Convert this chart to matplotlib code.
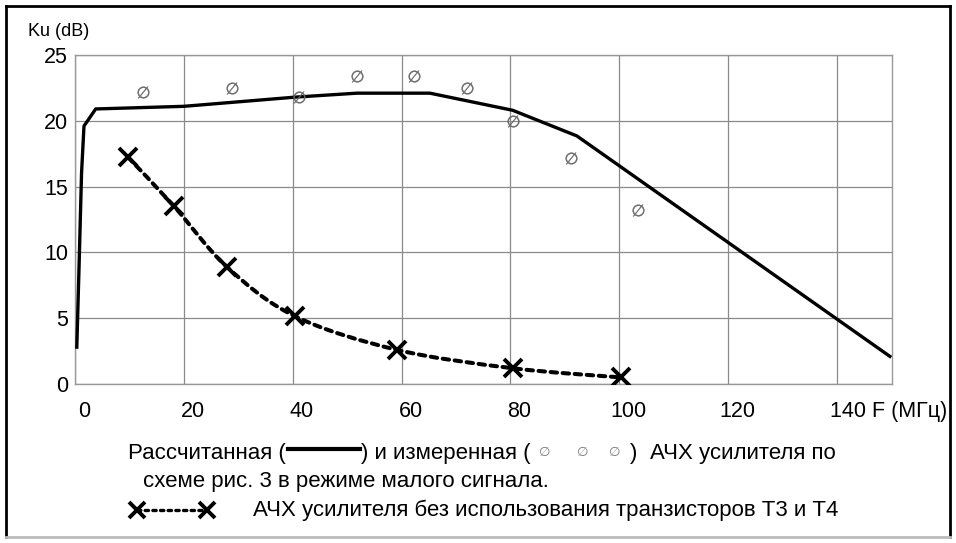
import numpy as np
import matplotlib.pyplot as plt
from matplotlib.lines import Line2D
from matplotlib.path import Path
from matplotlib.patches import PathPatch
from matplotlib.transforms import ScaledTranslation

plt.rcParams["font.family"] = ["Liberation Sans", "DejaVu Sans"]

# calculated response (solid line)
calc_f = [0.33, 0.75, 1.2, 1.65, 3.8, 20, 40.5, 51.8, 65.2, 80.4, 92.2, 149.7]
calc_ku = [2.8, 9.0, 16.0, 19.6, 20.9, 21.1, 21.8, 22.1, 22.1, 20.8, 18.85, 2.1]

# measured response (slashed circles)
meas_f = [12.5, 28.8, 41.1, 51.8, 62.2, 72.0, 80.4, 91.1, 103.4]
meas_ku = [22.2, 22.5, 21.8, 23.4, 23.4, 22.5, 20.0, 17.2, 13.2]

# response without T3 and T4 (crosses, dashed)
noT_f = [9.7, 18.2, 27.9, 40.4, 59.1, 80.4, 100.3]
noT_ku = [17.25, 13.5, 8.9, 5.15, 2.6, 1.2, 0.5]

x_ticks = [0, 20, 40, 60, 80, 100, 120, 140]
x_labels = ["0", "20", "40", "60", "80", "100", "120", "140 F (МГц)"]
y_ticks = [0, 5, 10, 15, 20, 25]

W, H = 956, 543
grid_color = "#8a8a8a"


def px(x, y):
    return x / W, 1 - y / H


def smooth_path(xs, ys):
    # Catmull-Rom style smoothing, like a spreadsheet "smoothed line"
    pts = np.column_stack([xs, ys])
    verts = [pts[0]]
    codes = [Path.MOVETO]
    n = len(pts)
    for i in range(n - 1):
        p0 = pts[max(i - 1, 0)]
        p1 = pts[i]
        p2 = pts[i + 1]
        p3 = pts[min(i + 2, n - 1)]
        c1 = p1 + (p2 - p0) / 6
        c2 = p2 - (p3 - p1) / 6
        verts += [c1, c2, p2]
        codes += [Path.CURVE4] * 3
    return Path(verts, codes)


fig = plt.figure(figsize=(W / 100, H / 100), dpi=100)
ax = fig.add_axes([75 / W, 1 - 384 / H, (891.5 - 75) / W, (384 - 55) / H])

ax.set_xlim(0, 150)
ax.set_ylim(0, 25)
ax.set_xticks(x_ticks)
ax.set_xticklabels(x_labels)
ax.set_yticks(y_ticks)
ax.tick_params(length=0, labelsize=15.5)
ax.tick_params(axis="y", pad=5)
ax.tick_params(axis="x", pad=12)
ax.grid(True, color=grid_color, linewidth=0.9)
ax.set_axisbelow(True)
for s in ax.spines.values():
    s.set_color("#999999")
    s.set_linewidth(1.0)

shift = ScaledTranslation(9 / 100, 0, fig.dpi_scale_trans)
labels = ax.get_xticklabels()
for lab in labels[:-1]:
    lab.set_transform(lab.get_transform() + shift)
last = labels[-1]
last.set_horizontalalignment("left")
last.set_transform(last.get_transform() + ScaledTranslation(-7 / 100, 0, fig.dpi_scale_trans))

ax.plot(calc_f, calc_ku, color="black", linewidth=2.4, solid_joinstyle="round", zorder=3)

ax.scatter(meas_f, meas_ku, marker=r"$\varnothing$", s=70, color="#666666",
           linewidths=0.3, zorder=4)

curve = PathPatch(smooth_path(noT_f, noT_ku), facecolor="none", edgecolor="black",
                  linewidth=2.9, linestyle=(0, (1.6, 1.4)), capstyle="round", zorder=3)
ax.add_patch(curve)
ax.plot(noT_f, noT_ku, linestyle="none", marker="x", markersize=13,
        markeredgewidth=2.8, color="black", zorder=5)

fig.text(*px(28, 32), "Ku (dB)", fontsize=13, va="center", ha="left")

# caption / legend
fs = 16
y1, y2, y3 = 453, 481, 510
fig.text(*px(128, y1), "Рассчитанная (", fontsize=fs, va="center", ha="left")
fig.add_artist(Line2D([288 / W, 360 / W], [1 - 449 / H, 1 - 449 / H],
                      color="black", linewidth=3.0, transform=fig.transFigure))
fig.text(*px(361, y1), ") и измеренная (", fontsize=fs, va="center", ha="left")
for xm in [545, 583, 615]:
    fig.text(*px(xm, y1), "∅", fontsize=9.5, color="#777777", va="center", ha="center",
             family=["DejaVu Sans"])
fig.text(*px(630, y1), ")", fontsize=fs, va="center", ha="left")
fig.text(*px(650, y1), "АЧХ усилителя по", fontsize=fs, va="center", ha="left")
fig.text(*px(143, y2), "схеме рис. 3 в режиме малого сигнала.", fontsize=fs,
         va="center", ha="left")

fig.add_artist(Line2D([137 / W, 207 / W], [1 - y3 / H, 1 - y3 / H], color="black",
                      linewidth=2.4, linestyle=(0, (1.0, 1.3)),
                      dash_capstyle="round", transform=fig.transFigure))
fig.add_artist(Line2D([137 / W, 207 / W], [1 - y3 / H, 1 - y3 / H], color="black",
                      linestyle="none", marker="x", markersize=12, markeredgewidth=2.8,
                      transform=fig.transFigure))
fig.text(*px(253, y3), "АЧХ усилителя без использования транзисторов Т3 и Т4",
         fontsize=fs, va="center", ha="left")

# outer frame
frame_kw = dict(transform=fig.transFigure, linewidth=2.0)
fig.add_artist(Line2D([6 / W, 950 / W], [1 - 6 / H, 1 - 6 / H], color="black", **frame_kw))
fig.add_artist(Line2D([6 / W, 6 / W], [1 - 6 / H, 1 - 537 / H], color="black", **frame_kw))
fig.add_artist(Line2D([950 / W, 950 / W], [1 - 6 / H, 1 - 537 / H], color="black", **frame_kw))
fig.add_artist(Line2D([6 / W, 950 / W], [1 - 537 / H, 1 - 537 / H], color="#bbbbbb", **frame_kw))

fig.savefig("out.png", dpi=100)
